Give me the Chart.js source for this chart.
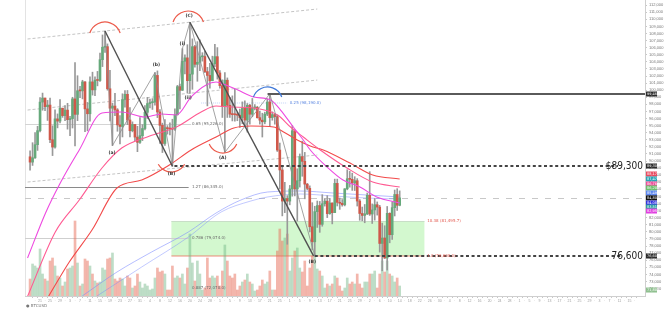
<!DOCTYPE html>
<html>
<head>
<meta charset="utf-8">
<script src="https://cdn.jsdelivr.net/npm/chart.js@4.4.1/dist/chart.umd.min.js"></script>
<style>
  html, body { margin: 0; padding: 0; background: #fff; }
  #wrap { width: 669px; height: 318px; }
</style>
</head>
<body>
<div id="wrap"><canvas id="myChart" width="669" height="318"></canvas></div>
<script>
// BTC/USD daily candles, 17 Nov 2024 (index 0) .. 14 Apr 2025, prices in thousands of USD
var opens = [90.60,89.85,90.46,92.31,94.29,98.32,98.89,97.67,97.90,93.01,91.97,95.95,95.64,97.46,96.41,97.19,95.84,95.99,98.77,96.59,
  99.92,99.90,101.17,97.36,96.67,101.17,100.04,101.42,101.37,104.30,106.06,106.14,100.20,97.46,97.76,97.22,95.10,94.88,98.68,99.42,
  95.79,94.28,95.16,93.38,92.64,93.58,94.59,96.88,98.11,98.24,98.31,102.08,96.92,95.04,92.48,94.70,94.57,94.52,94.50,96.53,
  100.50,99.99,104.08,104.56,101.34,102.26,106.14,103.65,103.94,104.71,104.75,102.62,102.08,101.33,103.73,104.73,102.43,100.64,97.69,101.41,
  97.87,96.62,96.55,96.53,96.47,96.13,97.43,95.78,97.87,96.61,97.50,97.57,96.12,95.77,95.54,96.62,98.33,96.13,96.55,96.27,
  91.55,88.74,84.35,84.70,84.35,86.06,94.27,86.07,87.22,90.62,89.96,86.74,86.15,80.73,78.60,82.86,83.72,81.07,83.97,84.34,
  82.58,84.08,82.72,86.85,84.17,84.04,83.83,86.08,87.50,87.42,86.90,87.22,84.35,82.60,82.33,82.55,85.16,82.52,83.10,83.84,
  83.50,78.37,79.14,76.32,82.62,79.61,83.42,85.28,83.76];
var highs = [91.45,92.59,94.00,94.90,98.96,99.59,98.90,98.56,98.87,94.97,97.21,96.65,98.69,97.46,97.84,98.15,96.30,99.00,103.90,102.04,
  100.55,101.40,101.21,98.27,101.89,102.54,101.90,102.65,105.25,107.79,108.35,106.53,102.80,98.17,99.54,97.40,96.42,99.49,99.96,99.96,
  97.54,95.53,95.17,94.90,96.15,95.14,97.84,98.98,98.73,98.81,102.48,102.72,97.26,95.35,95.84,95.00,95.40,95.90,97.37,100.68,
  100.87,105.86,104.99,106.42,109.59,107.24,106.33,106.85,107.12,105.29,105.48,103.22,103.80,104.80,106.46,106.01,102.78,101.46,102.50,101.73,
  99.00,99.20,100.14,96.88,97.32,98.35,98.48,98.12,97.99,98.83,97.97,97.73,97.05,96.75,96.90,98.76,99.50,96.94,96.67,96.50,
  92.54,89.29,87.00,85.12,86.56,95.00,94.42,88.91,91.00,92.81,91.22,86.85,86.50,84.12,83.62,84.36,84.30,85.26,84.67,85.12,
  84.73,84.10,87.45,87.45,84.78,84.57,86.10,88.77,88.54,88.29,87.79,87.52,84.57,83.51,83.87,85.49,88.50,83.95,84.72,84.23,
  83.75,81.24,80.87,83.59,82.70,84.25,85.91,86.10,85.79];
var lows = [88.72,89.38,90.36,91.50,94.10,97.17,97.10,95.73,92.60,90.77,91.80,94.68,95.38,96.16,95.69,94.50,93.58,94.66,92.12,95.70,
  98.95,98.77,94.15,94.26,95.63,99.31,99.21,100.61,101.23,103.33,105.32,100.00,95.67,92.18,96.40,94.20,92.40,93.40,97.59,95.14,
  93.40,94.12,92.88,91.32,92.50,92.88,94.39,96.00,97.50,97.28,97.90,96.13,92.50,91.20,92.20,93.80,93.70,89.26,94.32,96.50,
  97.34,99.95,102.28,99.65,99.55,100.12,103.26,101.26,102.75,104.10,102.46,97.78,100.27,101.33,103.30,101.56,100.28,96.15,91.23,96.15,
  96.16,95.66,95.62,95.69,94.75,95.26,94.88,94.09,95.21,96.25,97.23,96.05,95.21,93.39,95.25,96.40,94.87,95.76,95.20,91.35,
  86.05,82.26,82.72,78.26,83.82,85.04,85.08,81.53,86.33,87.85,84.67,85.93,80.00,77.46,76.61,80.63,79.94,80.80,83.64,82.02,
  82.49,81.13,82.71,83.66,83.18,83.63,83.67,85.94,86.31,85.86,85.84,83.65,81.64,81.57,81.29,82.43,82.32,81.19,81.66,82.37,
  77.15,74.51,76.24,74.62,78.46,78.94,82.25,83.03,83.68];
var closes = [89.85,90.46,92.31,94.29,98.32,98.89,97.67,97.90,93.01,91.97,95.95,95.64,97.46,96.41,97.19,95.84,95.99,98.77,96.59,99.92,
  99.90,101.17,97.36,96.67,101.17,100.04,101.42,101.37,104.30,106.06,106.14,100.20,97.46,97.76,97.22,95.10,94.88,98.68,99.42,95.79,
  94.28,95.16,93.38,92.64,93.58,94.59,96.88,98.11,98.24,98.31,102.08,96.92,95.04,92.48,94.70,94.57,94.52,94.50,96.53,100.50,
  99.99,104.08,104.56,101.34,102.26,106.14,103.65,103.94,104.71,104.75,102.62,102.08,101.33,103.73,104.73,102.43,100.64,97.69,101.41,97.87,
  96.62,96.55,96.53,96.47,96.13,97.43,95.78,97.87,96.61,97.50,97.57,96.12,95.77,95.54,96.62,98.33,96.13,96.55,96.27,91.55,
  88.74,84.35,84.70,84.35,86.06,94.27,86.07,87.22,90.62,89.96,86.74,86.15,80.73,78.60,82.86,83.72,81.07,83.97,84.34,82.58,
  84.08,82.72,86.85,84.17,84.04,83.83,86.08,87.50,87.42,86.90,87.22,84.35,82.60,82.33,82.55,85.16,82.52,83.10,83.84,83.50,
  78.37,79.14,76.32,82.62,79.61,83.42,85.28,83.76,84.80];
// relative daily volume
var volumes = [17,32,30,28,47,22,17,15,35,38,30,20,18,10,14,27,28,30,75,33,
  10,12,37,35,30,22,15,13,14,28,26,37,38,43,17,15,18,17,10,20,
  18,8,10,22,14,8,12,10,6,7,18,28,24,25,22,6,6,30,18,20,
  18,22,12,28,62,33,15,35,22,6,8,38,18,20,18,20,10,25,51,35,
  20,18,22,6,10,14,16,22,14,12,5,6,10,16,12,14,25,6,6,45,
  67,55,58,62,25,38,45,48,28,24,35,10,28,40,42,27,25,20,8,12,
  10,12,20,18,10,5,8,18,12,14,12,22,12,8,14,14,22,22,25,8,
  22,35,24,35,22,20,14,18,10];

// moving averages (day index, price in thousands)
var ma20Idx = [-1,6.2,12.1,19.7,28.8,36.7,45.9,52.6,58.6,64.5,70.5,74.5,78.4,83.2,89.6,96.3,100.3,105.4,109.4,112.2,118.9,125.3,132.1,138.8,148];
var ma20 = [76.32,82.67,86.90,91.56,96.78,96.92,96.21,96.64,96.50,99.04,100.73,101.15,100.73,100.02,99.04,98.61,97.20,94.80,92.97,91.56,89.16,87.32,86.34,84.93,84.08];
var ma50Idx = [-1,10.1,19.7,28.8,36.7,47.9,58.6,68.5,74.5,80.4,89.6,99.1,104.3,109.4,116.2,126.9,137.2,148];
var ma50 = [70.90,79.99,84.50,89.02,91.84,93.53,94.80,96.92,97.77,97.62,97.48,96.50,94.80,93.39,91.56,89.02,87.04,86.34];
var ma100Idx = [7,15.7,24.8,34.8,44.7,55.8,64.5,74.5,81.6,88.4,97.5,101.5,107,112.2,117.4,128.1,137.2,148];
var ma100 = [70.67,75.75,80.27,86.20,87.32,89.44,91.56,93.39,94.66,94.94,94.80,94.10,92.97,92.12,91.56,89.72,88.03,87.47];
var ma200Idx = [20.9,34.8,48.7,63.4,74.5,84.4,95.1,108.2,121.3,134.8,148];
var ma200 = [70.96,74.34,77.17,79.99,82.67,84.50,85.63,85.77,85.49,85.21,84.93];
var ema200Idx = [26.8,44.7,63.4,76.5,88.4,95.1,108.2,121.3,134.8,148];
var ema200 = [70.96,75.05,79.28,82.81,84.36,84.93,85.35,85.07,84.78,84.64];

// drawn levels
var resistanceLevel = 89.3;
var supportLevel = 76.6;
var lastPrice = 84.8;
var breakLevel = 99.46;
var zoneTop = 81.54, zoneBottom = 76.6, zoneFrom = 56.6, zoneTo = 157.9;

var green = '#66a97b', red = '#d0584a';

function pts(xs, ys) { return xs.map(function (x, i) { return { x: x, y: ys[i] }; }); }

var bodies = opens.map(function (o, i) { return { x: i, y: [o, closes[i]] }; });
var wicks = lows.map(function (l, i) { return { x: i, y: [l, highs[i]] }; });
var vols = volumes.map(function (v, i) { return { x: i, y: v }; });
var up = opens.map(function (o, i) { return closes[i] >= o; });

var overlay = {
  id: 'overlay',
  beforeDatasetsDraw: function (chart) {
    var c = chart.ctx, xs = chart.scales.x, ys = chart.scales.y, a = chart.chartArea;
    var X = function (v) { return xs.getPixelForValue(v); }, Y = function (v) { return ys.getPixelForValue(v); };
    c.save();
    c.beginPath(); c.rect(a.left, a.top, a.right - a.left, a.bottom - a.top); c.clip();
    // left border
    c.strokeStyle = '#e3e3e3'; c.lineWidth = 1;
    c.beginPath(); c.moveTo(a.left + 0.5, a.top); c.lineTo(a.left + 0.5, a.bottom); c.stroke();
    // green zone
    c.fillStyle = 'rgba(150,238,140,0.42)';
    c.fillRect(X(zoneFrom), Y(zoneTop), X(zoneTo) - X(zoneFrom), Y(zoneBottom) - Y(zoneTop));
    c.strokeStyle = 'rgba(235,110,90,0.8)';
    c.beginPath(); c.moveTo(X(zoneFrom), Y(zoneBottom)); c.lineTo(X(zoneTo), Y(zoneBottom)); c.stroke();
    c.strokeStyle = 'rgba(200,220,200,0.9)';
    c.beginPath(); c.moveTo(X(zoneFrom), Y(zoneTop) + 0.5); c.lineTo(X(zoneTo), Y(zoneTop) + 0.5); c.stroke();
    // fib lines
    c.lineWidth = 1;
    [[95.23, 64.5, '#d4d4d4'], [86.34, 63.5, '#8a8a8a'], [79.14, 63.5, '#cfcfcf']].forEach(function (f) {
      c.strokeStyle = f[2];
      c.beginPath(); c.moveTo(a.left, Math.round(Y(f[0])) + 0.5); c.lineTo(X(f[1]), Math.round(Y(f[0])) + 0.5); c.stroke();
    });
    // last price
    c.strokeStyle = '#c8c8c8'; c.setLineDash([6, 7]);
    c.beginPath(); c.moveTo(a.left, Math.round(Y(lastPrice)) + 0.5); c.lineTo(a.right, Math.round(Y(lastPrice)) + 0.5); c.stroke();
    // channel lines
    c.strokeStyle = '#ababab'; c.setLineDash([3, 2]); c.lineWidth = 0.7;
    [[-1, 107.22, 115, 111.45], [-1, 97.20, 115, 101.43], [-1, 87.04, 115, 90.85]].forEach(function (l) {
      c.beginPath(); c.moveTo(X(l[0]), Y(l[1])); c.lineTo(X(l[2]), Y(l[3])); c.stroke();
    });
    c.setLineDash([]);
    // blue dotted level
    c.strokeStyle = 'rgba(110,150,235,0.6)'; c.setLineDash([1, 1]);
    c.beginPath(); c.moveTo(X(68.5), Y(98.19)); c.lineTo(X(103), Y(98.19)); c.stroke();
    c.restore();
  },
  afterDatasetsDraw: function (chart) {
    var c = chart.ctx, xs = chart.scales.x, ys = chart.scales.y, a = chart.chartArea;
    var X = function (v) { return xs.getPixelForValue(v); }, Y = function (v) { return ys.getPixelForValue(v); };
    c.save();
    // thin zigzag
    var thin = [[30, 108.35], [33, 92.18], [50, 102.48], [57, 89.26], [61, 105.86], [64, 109.59], [78, 91.23], [96, 99.5], [114, 76.61]];
    c.strokeStyle = '#8c8c8c'; c.lineWidth = 0.8;
    c.beginPath();
    thin.forEach(function (p, i) { if (i) c.lineTo(X(p[0]), Y(p[1])); else c.moveTo(X(p[0]), Y(p[1])); });
    c.stroke();
    // thick legs
    c.strokeStyle = '#505050'; c.lineWidth = 1.4;
    [[30, 108.35, 57, 89.26], [64, 109.59, 113.5, 76.61]].forEach(function (l) {
      c.beginPath(); c.moveTo(X(l[0]), Y(l[1])); c.lineTo(X(l[2]), Y(l[3])); c.stroke();
    });
    // break level
    c.strokeStyle = '#5a5a5a'; c.lineWidth = 2;
    c.beginPath(); c.moveTo(X(95.1), Math.round(Y(breakLevel))); c.lineTo(a.right, Math.round(Y(breakLevel))); c.stroke();
    // dashed key levels
    c.strokeStyle = '#444'; c.lineWidth = 1.8; c.setLineDash([3, 2.6]);
    c.beginPath(); c.moveTo(X(57.8), Y(resistanceLevel)); c.lineTo(a.right - 27, Y(resistanceLevel)); c.stroke();
    c.beginPath(); c.moveTo(X(114), Y(supportLevel)); c.lineTo(a.right - 22, Y(supportLevel)); c.stroke();
    c.setLineDash([]);
    c.fillStyle = '#222'; c.font = '10px "Liberation Sans Narrow", "DejaVu Sans Condensed", sans-serif';
    c.textAlign = 'right'; c.textBaseline = 'middle';
    c.fillText('$89,300', a.right - 2, Y(resistanceLevel));
    c.fillText('76,600', a.right - 2, Y(supportLevel));
    // arcs
    function arc(ix, p, r, s, e, col) {
      c.strokeStyle = col; c.lineWidth = 1.2;
      c.beginPath(); c.arc(X(ix), Y(p), r, s, e); c.stroke();
    }
    arc(30, 107.36, 16, Math.PI + 0.32, 2 * Math.PI - 0.32, '#ec5a4a');
    arc(63.35, 108.91, 16, Math.PI + 0.32, 2 * Math.PI - 0.32, '#ec5a4a');
    arc(56.6, 90.57, 15, 0.5, Math.PI - 0.5, '#ec5a4a');
    arc(77.24, 93.25, 15, 0.41, Math.PI - 0.41, '#ec5a4a');
    arc(95.11, 98.33, 15, Math.PI + 0.34, 2 * Math.PI - 0.34, '#3f78d8');
    // small texts
    c.textAlign = 'left'; c.font = '4px "DejaVu Sans", sans-serif'; c.fillStyle = '#6a6a6a';
    [[95.23, '0.65 (95,226.0)'], [86.34, '1.27 (86,345.0)'], [79.14, '0.786 (79,074.0)'], [72.07, '0.887 (72,070.0)']].forEach(function (f) {
      c.fillText(f[1], X(64.8), Y(f[0]));
    });
    c.fillStyle = '#5b86e0'; c.fillText('0.25 (98,190.0)', X(104), Y(98.19));
    c.fillStyle = '#e35a50';
    c.fillText('10.38 (81,495.7)', X(159), Y(zoneTop));
    c.fillText('1.0 (76,600.0)', X(159), Y(zoneBottom));
    // wave labels
    c.textAlign = 'center'; c.fillStyle = '#333'; c.font = 'bold 4.5px "DejaVu Sans", sans-serif';
    [[32.8, 91.2, '(a)'], [50.6, 103.6, '(b)'], [56.6, 88.2, '(B)'], [61, 106.6, '(i)'], [63.7, 110.5, '(C)'],
     [63.3, 98.9, '(ii)'], [77.2, 90.5, '(A)'], [113, 75.8, '(B)']].forEach(function (w) {
      c.fillText(w[2], X(w[0]), Y(w[1]));
    });
    c.restore();
  },
  afterDraw: function (chart) {
    var c = chart.ctx, ys = chart.scales.y, a = chart.chartArea;
    c.save();
    var tags = [[99.46, '#2b2b2b'], [89.3, '#2b2b2b'], [88.17, '#e84a5f'], [87.47, '#26a5b5'], [86.76, '#ee4c9a'],
      [86.2, '#6bbf6b'], [85.49, '#5b86f0'], [84.8, '#111'], [84.08, '#3434e0'], [83.51, '#2aa0a0'],
      [82.95, '#e040e0'], [76.6, '#2b2b2b'], [71.8, '#8fc08f']];
    c.font = '3.5px "DejaVu Sans", sans-serif'; c.textBaseline = 'middle'; c.textAlign = 'left';
    tags.forEach(function (t) {
      var y = ys.getPixelForValue(t[0]);
      c.fillStyle = t[1]; c.fillRect(a.right + 1, y - 2.5, 11, 5);
      c.fillStyle = '#fff'; c.fillText((t[0] * 1000).toLocaleString('en-US', { maximumFractionDigits: 0 }), a.right + 2, y);
    });
    c.fillStyle = '#777'; c.font = '4px "DejaVu Sans", sans-serif';
    c.fillText('\u25CF BTCUSD', a.left + 1, a.bottom + 10);
    c.restore();
  }
};

new Chart(document.getElementById('myChart'), {
  type: 'bar',
  data: {
    datasets: [
      { type: 'line', label: 'MA20', data: pts(ma20Idx, ma20), borderColor: '#ee49e0', borderWidth: 1.1, pointRadius: 0, cubicInterpolationMode: 'monotone', order: 1 },
      { type: 'line', label: 'MA50', data: pts(ma50Idx, ma50), borderColor: '#ff5a92', borderWidth: 1.1, pointRadius: 0, cubicInterpolationMode: 'monotone', order: 1 },
      { type: 'line', label: 'MA100', data: pts(ma100Idx, ma100), borderColor: '#f24a4a', borderWidth: 1.1, pointRadius: 0, cubicInterpolationMode: 'monotone', order: 1 },
      { type: 'line', label: 'MA200', data: pts(ma200Idx, ma200), borderColor: 'rgba(120,135,255,0.55)', borderWidth: 1, pointRadius: 0, cubicInterpolationMode: 'monotone', order: 6 },
      { type: 'line', label: 'EMA200', data: pts(ema200Idx, ema200), borderColor: 'rgba(120,135,255,0.45)', borderWidth: 1, pointRadius: 0, cubicInterpolationMode: 'monotone', order: 6 },
      { label: 'wick', data: wicks, backgroundColor: '#999', barThickness: 1, grouped: false, order: 5 },
      { label: 'body', data: bodies, backgroundColor: up.map(function (u) { return u ? green : red; }), barThickness: 2, minBarLength: 1, grouped: false, order: 4 },
      { label: 'volume', data: vols, yAxisID: 'v', backgroundColor: up.map(function (u) { return u ? 'rgba(110,180,130,0.45)' : 'rgba(232,110,90,0.5)'; }), barThickness: 2, grouped: false, order: 10 }
    ]
  },
  options: {
    responsive: false,
    animation: false,
    devicePixelRatio: 1,
    layout: { padding: { left: 25, right: 0, top: 0, bottom: 0 } },
    plugins: { legend: { display: false }, tooltip: { enabled: false } },
    scales: {
      x: {
        type: 'linear', min: -1, max: 245.2, position: 'bottom',
        grid: { drawOnChartArea: false, tickLength: 2, color: '#c8c8c8' },
        border: { color: '#cfcfcf' },
        ticks: {
          stepSize: 2, autoSkip: false, maxRotation: 0, padding: 1,
          font: { size: 3.5 }, color: '#a0a0a0',
          callback: function (v) { return v % 4 === 0 ? new Date(2024, 10, 17 + v).getDate() : '·'; }
        },
        afterBuildTicks: function (s) { s.ticks = s.ticks.filter(function (t) { return Number.isInteger(t.value) && t.value % 2 === 0; }); },
        afterFit: function (s) { s.height = 22; s.paddingLeft = 0; s.paddingRight = 0; }
      },
      y: {
        type: 'linear', position: 'right', min: 70.956, max: 112.725,
        grid: { drawOnChartArea: false, tickLength: 2, color: '#c8c8c8' },
        border: { color: '#cfcfcf' },
        ticks: {
          stepSize: 1, autoSkip: false, padding: 2, font: { size: 4 }, color: '#777',
          callback: function (v) { return (v * 1000).toLocaleString('en-US'); }
        },
        afterBuildTicks: function (s) { s.ticks = s.ticks.filter(function (t) { return Math.abs(t.value - Math.round(t.value)) < 1e-6; }); },
        afterFit: function (s) { s.width = 24; s.paddingTop = 0; s.paddingBottom = 0; }
      },
      v: { display: false, min: 0, max: 296 }
    }
  },
  plugins: [overlay]
});
</script>
</body>
</html>
